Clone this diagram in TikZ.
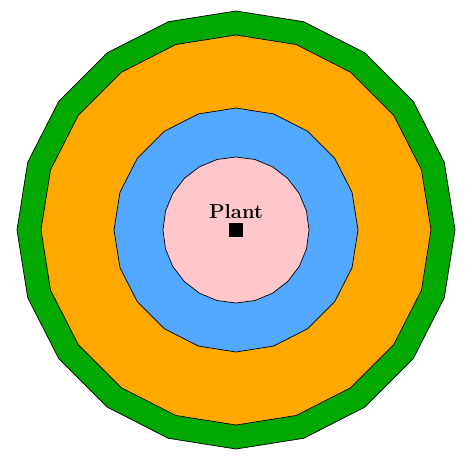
\documentclass[tikz,border=0pt]{standalone}
\usepackage{tikz}
\usetikzlibrary{positioning}

\definecolor{zonegreen}{RGB}{0,168,0}
\definecolor{zoneorange}{RGB}{255,168,0}
\definecolor{zoneblue}{RGB}{82,168,255}
\definecolor{zonepink}{RGB}{255,198,203}

\begin{document}
\begin{tikzpicture}[x=0.02cm,y=0.02cm]
			\useasboundingbox (-236,-230) rectangle (236,230);
			
			% Outer zone (green)
			\draw[fill=zonegreen, line width=0.4pt] plot[samples=21, domain=90:450] (\x:219) -- cycle;
			
			% Second zone (orange)
			\draw[fill=zoneorange, line width=0.4pt] plot[samples=21, domain=90:450] (\x:195) -- cycle;
			
			% Third zone (blue)
			\draw[fill=zoneblue, line width=0.4pt] plot[samples=21, domain=90:450] (\x:122) -- cycle;
			
			% Inner zone (pink)
			\draw[fill=zonepink, line width=0.4pt] plot[samples=25, domain=90:450] (\x:73) -- cycle;
			
			% Plant
			\node[fill=black, minimum size=8pt, inner sep=0pt] (plant) at (0,0) {};
			\node[above=-1pt of plant, font=\fontsize{11.5}{14}\selectfont\bfseries] (plantlabel) {Plant};
		\end{tikzpicture}
\end{document}
